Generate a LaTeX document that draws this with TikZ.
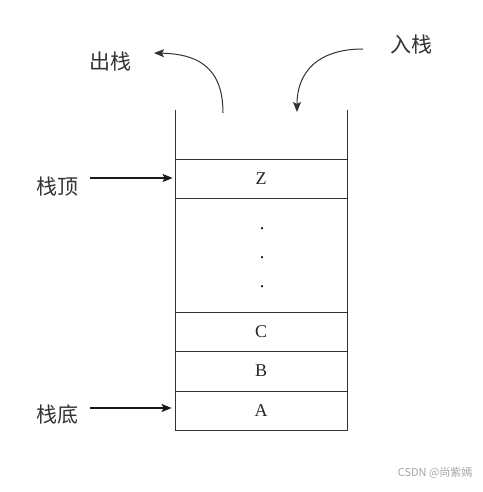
\documentclass[tikz,border=0pt]{standalone}
\usepackage{fontspec}
\setmainfont{Liberation Serif}
\newfontfamily\cjk{Noto Sans CJK SC}
\usetikzlibrary{arrows.meta}
\begin{document}
\begin{tikzpicture}[x=1pt,y=-1pt,
  wall/.style={draw=black!80,line width=0.8pt},
  cell/.style={draw=black!80,line width=0.8pt,minimum width=172pt,inner sep=0pt,font=\fontsize{18}{18}\selectfont,text=black!85},
  lab/.style={font=\cjk\fontsize{21}{21}\selectfont,text=black!80},
  arr/.style={-{Stealth[length=10pt,width=8pt,inset=2pt]},line width=1.3pt,black!90},
  carr/.style={-{Stealth[length=10pt,width=8pt,inset=2pt]},line width=1pt,black!80}]
\useasboundingbox (0,0) rectangle (482,492);
\fill[white] (0,0) rectangle (482,492);
% stack walls
\coordinate (wl) at (175,110);
\coordinate (wr) at (347,110);
\coordinate (bl) at (175,430);
\coordinate (br) at (347,430);
\draw[wall] (wl) -- (bl) -- (br) -- (wr);
% cells
\node[cell,minimum height=39pt] (z) at (261,178.5) {Z};
\node[cell,minimum height=39pt] (c) at (261,331.5) {C};
\node[cell,minimum height=40pt] (b) at (261,371) {B};
\node[cell,minimum height=39pt] (a) at (261,410.5) {A};
\node[font=\fontsize{18}{18}\selectfont] (d1) at (262,229) {.};
\node[font=\fontsize{18}{18}\selectfont] (d2) at (262,258) {.};
\node[font=\fontsize{18}{18}\selectfont] (d3) at (262,287) {.};
% labels
\node[lab] (pop) at (110,62) {出栈};
\node[lab] (push) at (411,45) {入栈};
\node[lab] (top) at (57,187) {栈顶};
\node[lab] (bot) at (57,415) {栈底};
% arrows
\coordinate (ts) at (90,178);
\coordinate (bs) at (90,408);
\draw[arr] (ts) -- ([xshift=-2pt,yshift=0.5pt]z.west);
\draw[arr] (bs) -- ([xshift=-3pt,yshift=2.5pt]a.west);
\coordinate (pops) at (223,113);
\coordinate (popt) at (154,53);
\draw[carr] (pops) .. controls (223,65) and (195,54) .. (popt);
\coordinate (pushs) at (363,49);
\coordinate (pusht) at (297,112);
\draw[carr] (pushs) .. controls (318,49) and (297,72) .. (pusht);
\node[font=\fontsize{11}{11}\selectfont\cjk,text=black!35,anchor=east] (wm) at (476,473) {CSDN @尚紫嫣};
\end{tikzpicture}
\end{document}
